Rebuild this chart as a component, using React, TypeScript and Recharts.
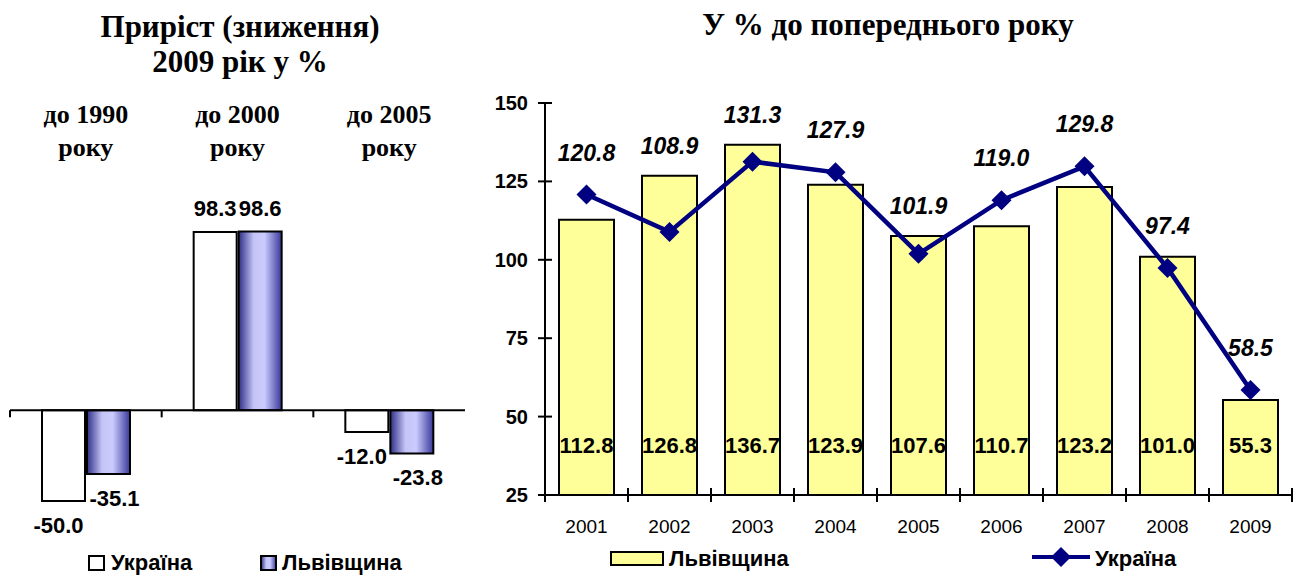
import React from 'react';
import {
    BarChart,
    ComposedChart,
    Bar,
    Line,
    XAxis,
    YAxis,
    ReferenceLine,
    LabelList
} from 'recharts';

// left chart: growth (decline) in 2009, %
const periods = ['до 1990 року', 'до 2000 року', 'до 2005 року'];
const changeUkraine = [-50.0, 98.3, -12.0];
const changeLviv = [-35.1, 98.6, -23.8];

// right chart: % of previous year
const years = ['2001', '2002', '2003', '2004', '2005', '2006', '2007', '2008', '2009'];
const lvivIndex = [112.8, 126.8, 136.7, 123.9, 107.6, 110.7, 123.2, 101.0, 55.3];
const ukraineIndex = [120.8, 108.9, 131.3, 127.9, 101.9, 119.0, 129.8, 97.4, 58.5];
const indexTicks = [25, 50, 75, 100, 125, 150];

const changeData = periods.map((p, i) => ({ period: p, ukraine: changeUkraine[i], lviv: changeLviv[i] }));
const indexData = years.map((y, i) => ({ year: y, lviv: lvivIndex[i], ukraine: ukraineIndex[i] }));

const SANS = 'Arial, "Liberation Sans", sans-serif';
const SERIF = '"Times New Roman", "Liberation Serif", serif';
const NAVY = '#000080';
const YELLOW = '#ffff99';

// layout of the left chart
const L_W = 480;
const L_TOP = 229;
const L_BOTTOM = 75;
const L_LEFT = 10;
const L_RIGHT = 15;
const L_DOMAIN: [number, number] = [-50, 100];
const L_PLOT_H = 576 - L_TOP - L_BOTTOM;
const L_ZERO_Y = L_TOP + (L_PLOT_H * L_DOMAIN[1]) / (L_DOMAIN[1] - L_DOMAIN[0]);
const L_BAND = (L_W - L_LEFT - L_RIGHT) / periods.length;

// layout of the right chart
const R_X = 480;
const R_W = 820;
const R_TOP = 103;
const R_BOTTOM = 51;
const R_XAXIS_H = 30;
const R_LEFT = 5;
const R_YAXIS_W = 60;
const R_RIGHT = 8;
const R_DOMAIN: [number, number] = [25, 150];
const R_PLOT_H = 576 - R_TOP - R_BOTTOM - R_XAXIS_H;
const R_BAND = (R_W - R_LEFT - R_YAXIS_W - R_RIGHT) / years.length;

const box = (props: any) => {
    const vb = props.viewBox && props.viewBox.x !== undefined ? props.viewBox : props;
    const x = Number(vb.x) || 0;
    const y = Number(vb.y) || 0;
    const w = Number(vb.width) || 0;
    const h = Number(vb.height) || 0;
    return { x, y, w, h, top: Math.min(y, y + h), bottom: Math.max(y, y + h), cx: x + w / 2 };
};

const PeriodTick = (props: any) => {
    const { x, y, payload } = props;
    const text = String(payload.value);
    const cut = text.lastIndexOf(' ');
    const edge = x - L_BAND / 2;
    return (
        <g>
            <text x={x} y={y - 106} textAnchor="middle" fontFamily={SERIF} fontWeight="bold" fontSize={26} fill="#000">
                {text.slice(0, cut)}
            </text>
            <text x={x} y={y - 73} textAnchor="middle" fontFamily={SERIF} fontWeight="bold" fontSize={26} fill="#000">
                {text.slice(cut + 1)}
            </text>
            <line x1={edge} x2={edge} y1={L_ZERO_Y} y2={L_ZERO_Y + 7} stroke="#000" strokeWidth={2} />
        </g>
    );
};

const changeLabel = (shift: number) => (props: any) => {
    const b = box(props);
    const v = Number(props.value);
    const up = v >= 0;
    return (
        <text
            key={`cl-${shift}-${props.index}`}
            x={up ? b.cx : b.cx + shift}
            y={up ? b.top - 16 : b.bottom + 32}
            textAnchor="middle"
            fontFamily={SANS}
            fontWeight="bold"
            fontSize={22}
            fill="#000"
        >
            {v.toFixed(1)}
        </text>
    );
};

const YearTick = (props: any) => {
    const { x, y, payload, index } = props;
    const l = x - R_BAND / 2;
    const r = x + R_BAND / 2;
    return (
        <g>
            <line x1={l} x2={l} y1={y - 7} y2={y + 7} stroke="#000" strokeWidth={2} />
            {index === years.length - 1 && <line x1={r} x2={r} y1={y - 7} y2={y + 7} stroke="#000" strokeWidth={2} />}
            <text x={x} y={y + 38} textAnchor="middle" fontFamily={SANS} fontSize={19} fill="#000">
                {payload.value}
            </text>
        </g>
    );
};

const IndexTick = (props: any) => {
    const { x, y, payload } = props;
    return (
        <g>
            <line x1={x - 7} x2={x + 7} y1={y} y2={y} stroke="#000" strokeWidth={2} />
            <text x={x - 17} y={y + 7} textAnchor="end" fontFamily={SANS} fontWeight="bold" fontSize={20} fill="#000">
                {payload.value}
            </text>
        </g>
    );
};

const lvivLabel = (props: any) => {
    const b = box(props);
    return (
        <text key={`ll-${props.index}`} x={b.cx} y={b.bottom - 42} textAnchor="middle" fontFamily={SANS} fontWeight="bold" fontSize={22} fill="#000">
            {Number(props.value).toFixed(1)}
        </text>
    );
};

// value -> pixel row of the right plot, used to keep line labels clear of the bar tops
const rowOf = (v: number) => R_TOP + ((R_DOMAIN[1] - v) / (R_DOMAIN[1] - R_DOMAIN[0])) * R_PLOT_H;

const ukraineLabel = (props: any) => {
    const b = box(props);
    const pointY = b.y + b.h / 2;
    const barTop = rowOf(lvivIndex[props.index] ?? R_DOMAIN[0]);
    const y = Math.min(pointY - 34, barTop - 22);
    return (
        <text
            key={`ul-${props.index}`}
            x={b.cx}
            y={y}
            textAnchor="middle"
            fontFamily={SANS}
            fontWeight="bold"
            fontStyle="italic"
            fontSize={23}
            fill="#000"
        >
            {Number(props.value).toFixed(1)}
        </text>
    );
};

const Diamond = (props: any) => {
    const { cx, cy, index } = props;
    if (cx == null || cy == null) return <g key={`d-${index}`} />;
    return <path key={`d-${index}`} d={`M${cx},${cy - 10}L${cx + 10},${cy}L${cx},${cy + 10}L${cx - 10},${cy}Z`} fill={NAVY} />;
};

const LvivGradient = ({ id }: { id: string }) => (
    <linearGradient id={id} x1="0" y1="0" x2="1" y2="0">
        <stop offset="0%" stopColor="#2e2e88" />
        <stop offset="35%" stopColor="#c4c4f6" />
        <stop offset="60%" stopColor="#cbcbff" />
        <stop offset="100%" stopColor="#38389a" />
    </linearGradient>
);

const App = () => {
    return (
        <div style={{ position: 'absolute', left: 0, top: 0, width: 1300, height: 576, background: '#fff' }}>
            {/* titles and legends */}
            <svg width={1300} height={576} style={{ position: 'absolute', left: 0, top: 0 }}>
                <defs>
                    <LvivGradient id="lvivLegend" />
                </defs>
                <g fontFamily={SERIF} fontWeight="bold" fontSize={31} textAnchor="middle" fill="#000">
                    <text x={240} y={37}>Приріст (зниження)</text>
                    <text x={240} y={72}>2009 рік у %</text>
                    <text x={888} y={35}>У % до попереднього року</text>
                </g>
                <g fontFamily={SANS} fontWeight="bold" fontSize={22} fill="#000">
                    <rect x={89} y={556} width={15} height={14} fill="#fff" stroke="#000" strokeWidth={2} />
                    <text x={111} y={570}>Україна</text>
                    <rect x={261} y={556} width={15} height={14} fill="url(#lvivLegend)" stroke="#000" strokeWidth={2} />
                    <text x={282} y={570}>Львівщина</text>
                    <rect x={611} y={552} width={52} height={13} fill={YELLOW} stroke="#000" strokeWidth={2} />
                    <text x={669} y={566}>Львівщина</text>
                    <line x1={1032} x2={1090} y1={557} y2={557} stroke={NAVY} strokeWidth={4} />
                    <Diamond cx={1061} cy={557} index="legend" />
                    <text x={1095} y={566}>Україна</text>
                </g>
            </svg>

            <div style={{ position: 'absolute', left: 0, top: 0 }}>
                <BarChart
                    width={L_W}
                    height={576}
                    data={changeData}
                    margin={{ top: 0, right: L_RIGHT, bottom: L_BOTTOM, left: L_LEFT }}
                    barSize={43}
                    barGap={2}
                >
                    <defs>
                        <LvivGradient id="lvivBar" />
                    </defs>
                    <XAxis
                        dataKey="period"
                        orientation="top"
                        height={L_TOP}
                        axisLine={false}
                        tickLine={false}
                        tickSize={0}
                        tickMargin={0}
                        interval={0}
                        tick={(p: any) => <PeriodTick {...p} />}
                    />
                    <YAxis hide domain={L_DOMAIN} />
                    <Bar dataKey="ukraine" fill="#fff" stroke="#000" strokeWidth={2} isAnimationActive={false}>
                        <LabelList dataKey="ukraine" content={changeLabel(-5)} />
                    </Bar>
                    <Bar dataKey="lviv" fill="url(#lvivBar)" stroke="#000" strokeWidth={2} isAnimationActive={false}>
                        <LabelList dataKey="lviv" content={changeLabel(6)} />
                    </Bar>
                    <ReferenceLine y={0} stroke="#000" strokeWidth={2} />
                </BarChart>
            </div>

            <div style={{ position: 'absolute', left: R_X, top: 0 }}>
                <ComposedChart
                    width={R_W}
                    height={576}
                    data={indexData}
                    margin={{ top: R_TOP, right: R_RIGHT, bottom: R_BOTTOM, left: R_LEFT }}
                >
                    <XAxis
                        dataKey="year"
                        height={R_XAXIS_H}
                        axisLine={{ stroke: '#000', strokeWidth: 2 }}
                        tickLine={false}
                        tickSize={0}
                        tickMargin={0}
                        interval={0}
                        tick={(p: any) => <YearTick {...p} />}
                    />
                    <YAxis
                        width={R_YAXIS_W}
                        domain={R_DOMAIN}
                        ticks={indexTicks}
                        interval={0}
                        allowDataOverflow
                        axisLine={{ stroke: '#000', strokeWidth: 2 }}
                        tickLine={false}
                        tickSize={0}
                        tickMargin={0}
                        tick={(p: any) => <IndexTick {...p} />}
                    />
                    <Bar dataKey="lviv" fill={YELLOW} stroke="#000" strokeWidth={2} barSize={55} isAnimationActive={false}>
                        <LabelList dataKey="lviv" content={lvivLabel} />
                    </Bar>
                    <Line
                        type="linear"
                        dataKey="ukraine"
                        stroke={NAVY}
                        strokeWidth={4.5}
                        dot={Diamond}
                        activeDot={false}
                        isAnimationActive={false}
                    >
                        <LabelList dataKey="ukraine" content={ukraineLabel} />
                    </Line>
                </ComposedChart>
            </div>
        </div>
    );
};

export default App;
